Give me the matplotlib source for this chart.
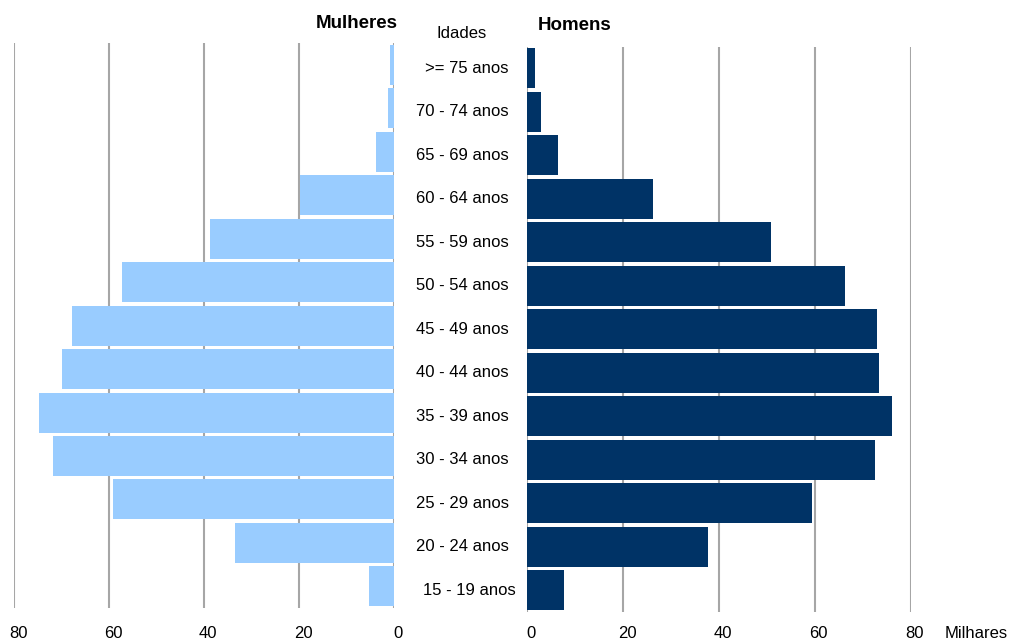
import matplotlib
matplotlib.use("Agg")
import matplotlib.pyplot as plt
from matplotlib.transforms import ScaledTranslation, blended_transform_factory

# age groups, bottom to top
idades = ["15 - 19 anos", "20 - 24 anos", "25 - 29 anos", "30 - 34 anos",
          "35 - 39 anos", "40 - 44 anos", "45 - 49 anos", "50 - 54 anos",
          "55 - 59 anos", "60 - 64 anos", "65 - 69 anos", "70 - 74 anos",
          ">= 75 anos"]
# thousands
mulheres = [5.2, 33.4, 59.1, 71.7, 74.7, 70.0, 67.7, 57.2, 38.7, 19.7, 3.7, 1.3, 0.8]
homens = [7.7, 37.7, 59.4, 72.6, 76.1, 73.4, 73.0, 66.3, 50.9, 26.2, 6.4, 2.8, 1.6]
ticks = [0, 20, 40, 60, 80]

plt.rcParams["font.family"] = ["Liberation Sans", "DejaVu Sans"]
plt.rcParams["font.size"] = 12

W, H = 1010, 640
fig = plt.figure(figsize=(W / 100, H / 100), dpi=100)


def px_axes(x0, x1, ytop, ybot):
    return fig.add_axes([x0 / W, 1 - ybot / H, (x1 - x0) / W, (ybot - ytop) / H])


ax_m = px_axes(14, 394, 43.3, 608)
ax_h = px_axes(527.3, 910.7, 46.5, 612)

pos = list(range(len(idades)))
ax_m.barh(pos, mulheres, height=0.92, color="#99CCFF", zorder=3)
ax_h.barh(pos, homens, height=0.92, color="#003366", zorder=3)

ax_m.set_xlim(80, 0)
ax_h.set_xlim(0, 80)

shift = ScaledTranslation(4 / 100, 0, fig.dpi_scale_trans)
for ax, pad in ((ax_m, 12.8), (ax_h, 10.2)):
    ax.set_ylim(-0.5, len(idades) - 0.5)
    ax.set_xticks(ticks)
    ax.set_xticklabels([str(t) for t in ticks])
    ax.set_yticks([])
    ax.tick_params(axis="x", length=0, pad=pad, labelsize=12)
    for lab in ax.get_xticklabels():
        lab.set_transform(lab.get_transform() + shift)
    ax.grid(axis="x", color="#a6a6a6", linewidth=1.5, zorder=0)
    ax.set_axisbelow(True)
    for s in ax.spines.values():
        s.set_visible(False)

# age labels in the middle, right-aligned
tr = blended_transform_factory(fig.transFigure, ax_h.transData)
for i, lab in enumerate(idades):
    x = 516 if i == 0 else 508.5
    ax_h.text(x / W, i, lab, transform=tr, ha="right", va="center", fontsize=12)

fig.text(357 / W, 1 - 23 / H, "Mulheres", ha="center", va="center",
         fontsize=13.5, fontweight="bold")
fig.text(575 / W, 1 - 25 / H, "Homens", ha="center", va="center",
         fontsize=13.5, fontweight="bold")
fig.text(462 / W, 1 - 33 / H, "Idades", ha="center", va="center", fontsize=12)
fig.text(976 / W, 1 - 633 / H, "Milhares", ha="center", va="center", fontsize=12)

fig.savefig("out.png", dpi=100, facecolor="white")
